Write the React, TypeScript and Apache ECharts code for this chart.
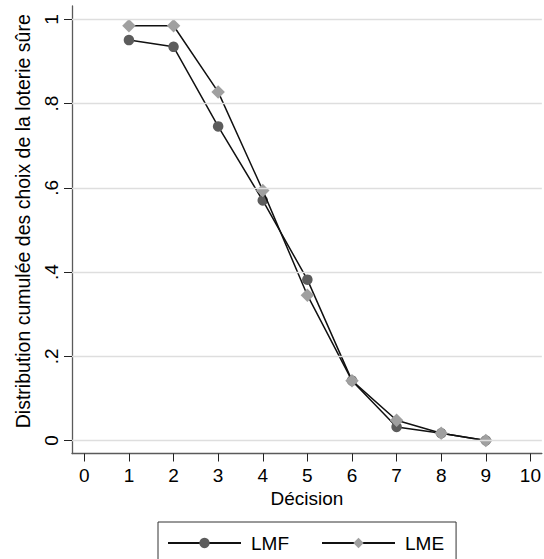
import React, { useEffect, useRef } from "react";
import * as echarts from "echarts";

const decisions = [1, 2, 3, 4, 5, 6, 7, 8, 9];
const lmfValues = [0.951, 0.935, 0.746, 0.570, 0.382, 0.142, 0.032, 0.017, 0.0];
const lmeValues = [0.985, 0.985, 0.828, 0.594, 0.345, 0.142, 0.048, 0.017, 0.0];
const xTicks = [0, 1, 2, 3, 4, 5, 6, 7, 8, 9, 10];
const yTicks = [0, 0.2, 0.4, 0.6, 0.8, 1];

const FONT = "'Liberation Sans', Arial, sans-serif";

export default function App() {
  const ref = useRef<HTMLDivElement>(null);
  useEffect(() => {
    if (!ref.current) return;
    const chart = echarts.init(ref.current, null, { renderer: "svg" });
    const fmtY = (v: number) => {
      if (Math.abs(v) < 1e-9) return "0";
      if (Math.abs(v - 1) < 1e-9) return "1";
      return String(Math.round(v * 10) / 10).replace(/^0\./, ".");
    };
    chart.setOption({
      animation: false,
      backgroundColor: "#ffffff",
      textStyle: { fontFamily: FONT },
      grid: { left: 72, right: 2, top: 6, bottom: 105.5 },
      xAxis: {
        type: "value",
        min: -0.276,
        max: 10.256,
        name: "Décision",
        nameLocation: "middle",
        nameGap: 35,
        nameTextStyle: { fontSize: 19, color: "#000", fontFamily: FONT, lineHeight: 19 },
        axisLine: { show: true, onZero: false, lineStyle: { color: "#5a5a5a", width: 1.3 } },
        axisTick: { show: true, customValues: xTicks, length: 8, lineStyle: { color: "#222", width: 1 } },
        axisLabel: {
          customValues: xTicks,
          fontSize: 19,
          lineHeight: 19,
          color: "#000",
          fontFamily: FONT,
          margin: 12,
          formatter: (v: number) => String(v),
        },
        splitLine: { show: false },
      },
      yAxis: {
        type: "value",
        min: -0.031,
        max: 1.032,
        name: "Distribution cumulée des choix de la loterie sûre",
        nameLocation: "middle",
        nameGap: 39,
        nameRotate: 90,
        nameTextStyle: { fontSize: 19.5, color: "#000", fontFamily: FONT, lineHeight: 20, padding: [0, 0, 0, 17] },
        axisLine: { show: true, onZero: false, lineStyle: { color: "#5a5a5a", width: 1.3 } },
        axisTick: { show: true, customValues: yTicks, length: 8, lineStyle: { color: "#222", width: 1 } },
        axisLabel: {
          customValues: yTicks,
          rotate: 90,
          fontSize: 19,
          lineHeight: 19,
          color: "#000",
          fontFamily: FONT,
          margin: 11,
          formatter: fmtY,
        },
        splitLine: { show: false },
      },
      legend: {
        left: 158,
        top: 522,
        padding: [11, 12, 12, 9],
        borderColor: "#333",
        borderWidth: 1,
        itemWidth: 73,
        itemHeight: 13,
        itemGap: 32,
        textStyle: { fontSize: 19, color: "#000", fontFamily: FONT, lineHeight: 20, padding: [0, 0, 0, 5] },
        data: ["LMF", "LME"],
      },
      series: [
        {
          name: "grid",
          type: "line",
          data: [],
          silent: true,
          z: 1,
          markLine: {
            silent: true,
            symbol: ["none", "none"],
            label: { show: false },
            lineStyle: { color: "#dedede", width: 1.4, type: "solid" },
            emphasis: { disabled: true },
            data: yTicks.map((v) => ({ yAxis: v })),
          },
        },
        {
          name: "LMF",
          type: "line",
          data: decisions.map((d, i) => [d, lmfValues[i]]),
          symbol: "circle",
          symbolSize: 10.5,
          z: 3,
          lineStyle: { color: "#111", width: 1.5 },
          itemStyle: { color: "#5c5c5c", borderWidth: 0 },
        },
        {
          name: "LME",
          type: "line",
          data: decisions.map((d, i) => [d, lmeValues[i]]),
          symbol: "diamond",
          symbolSize: 13.5,
          z: 4,
          lineStyle: { color: "#111", width: 1.5 },
          itemStyle: { color: "#a0a0a0", borderWidth: 0 },
        },
      ],
    });
    return () => chart.dispose();
  }, []);
  return (
    <div
      ref={ref}
      style={{ position: "fixed", left: 0, top: 0, width: 544, height: 559, background: "#fff" }}
    />
  );
}
